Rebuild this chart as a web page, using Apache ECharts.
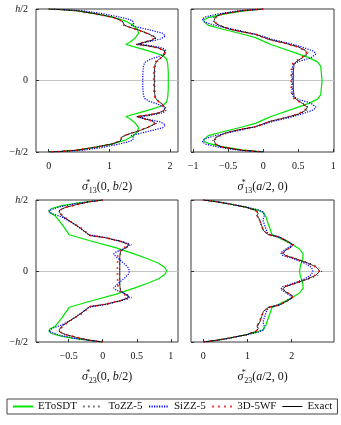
<!DOCTYPE html>
<html>
<head>
<meta charset="utf-8">
<script src="https://cdn.jsdelivr.net/npm/echarts@6/dist/echarts.min.js"></script>
<style>
  html, body { margin: 0; padding: 0; background: #fff; }
  #chart { width: 341px; height: 425px; }
</style>
</head>
<body>
<div id="chart"></div>
<script>
// legend / series names
var names = ["EToSDT", "ToZZ-5", "SiZZ-5", "3D-5WF", "Exact"];

// tick labels of each x axis
var xTicks1 = [0, 1, 2];
var xTicks2 = [-1, -0.5, 0, 0.5, 1];
var xTicks3 = [-0.5, 0, 0.5, 1];
var xTicks4 = [0, 1, 2];
var yTicks = [-0.5, 0, 0.5];

// ---- panel 1 : sigma13(0,b/2), points are [stress, z/h]
var p1Green = [[0,0.5],[0.2,0.496],[0.45,0.488],[0.78,0.466],[1.05,0.443],[1.2,0.425],[1.27,0.415],[1.38,0.39],[1.46,0.36],[1.48,0.33],[1.42,0.295],[1.33,0.266],[1.27,0.252],[1.5,0.225],[1.7,0.2],[1.88,0.175],[1.94,0.15],[1.96,0.12],[1.97,0.06],[1.97,0],
  [1.97,-0.06],[1.96,-0.12],[1.94,-0.15],[1.88,-0.175],[1.7,-0.2],[1.5,-0.225],[1.27,-0.252],[1.33,-0.266],[1.42,-0.295],[1.48,-0.33],[1.46,-0.36],[1.38,-0.39],[1.27,-0.415],[1.2,-0.425],[1.05,-0.443],[0.78,-0.466],[0.45,-0.488],[0.2,-0.496],[0,-0.5]];
var p1ToZZ = [[0,0.5],[0.2,0.496],[0.45,0.488],[0.78,0.466],[1.05,0.443],[1.18,0.423],[1.23,0.408],[1.22,0.395],[1.27,0.383],[1.37,0.368],[1.52,0.348],[1.67,0.323],[1.78,0.3],[1.72,0.282],[1.57,0.266],[1.44,0.252],[1.62,0.243],[1.81,0.228],[1.91,0.21],[1.93,0.19],[1.87,0.162],[1.79,0.135],[1.76,0.11],[1.75,0.06],[1.75,0],
  [1.75,-0.06],[1.76,-0.11],[1.79,-0.135],[1.87,-0.162],[1.93,-0.19],[1.91,-0.21],[1.81,-0.228],[1.62,-0.243],[1.44,-0.252],[1.57,-0.266],[1.72,-0.282],[1.78,-0.3],[1.67,-0.323],[1.52,-0.348],[1.37,-0.368],[1.27,-0.383],[1.22,-0.395],[1.23,-0.408],[1.18,-0.423],[1.05,-0.443],[0.78,-0.466],[0.45,-0.488],[0.2,-0.496],[0,-0.5]];
var p1SiZZ = [[0,0.5],[0.25,0.496],[0.55,0.488],[0.89,0.468],[1.12,0.448],[1.3,0.43],[1.38,0.418],[1.4,0.4],[1.36,0.385],[1.5,0.37],[1.7,0.35],[1.88,0.33],[1.92,0.31],[1.84,0.29],[1.65,0.272],[1.48,0.256],[1.7,0.242],[1.88,0.226],[1.93,0.21],[1.9,0.186],[1.8,0.166],[1.66,0.146],[1.58,0.125],[1.56,0.1],[1.55,0.05],[1.55,0],
  [1.55,-0.05],[1.56,-0.1],[1.58,-0.125],[1.66,-0.146],[1.8,-0.166],[1.9,-0.186],[1.93,-0.21],[1.88,-0.226],[1.7,-0.242],[1.48,-0.256],[1.65,-0.272],[1.84,-0.29],[1.92,-0.31],[1.88,-0.33],[1.7,-0.35],[1.5,-0.37],[1.36,-0.385],[1.4,-0.4],[1.38,-0.418],[1.3,-0.43],[1.12,-0.448],[0.89,-0.468],[0.55,-0.488],[0.25,-0.496],[0,-0.5]];
var p1WF = [[0,0.5],[0.2,0.496],[0.45,0.488],[0.77,0.466],[1.04,0.443],[1.17,0.423],[1.21,0.41],[1.2,0.397],[1.24,0.385],[1.34,0.37],[1.49,0.35],[1.64,0.325],[1.75,0.3],[1.69,0.282],[1.55,0.266],[1.45,0.252],[1.61,0.243],[1.79,0.228],[1.89,0.21],[1.91,0.19],[1.85,0.162],[1.77,0.135],[1.74,0.11],[1.73,0.06],[1.73,0],
  [1.73,-0.06],[1.74,-0.11],[1.77,-0.135],[1.85,-0.162],[1.91,-0.19],[1.89,-0.21],[1.79,-0.228],[1.61,-0.243],[1.45,-0.252],[1.55,-0.266],[1.69,-0.282],[1.75,-0.3],[1.64,-0.325],[1.49,-0.35],[1.34,-0.37],[1.24,-0.385],[1.2,-0.397],[1.21,-0.41],[1.17,-0.423],[1.04,-0.443],[0.77,-0.466],[0.45,-0.488],[0.2,-0.496],[0,-0.5]];
var p1Exact = [[0,0.5],[0.2,0.496],[0.45,0.488],[0.78,0.466],[1.05,0.443],[1.18,0.423],[1.22,0.41],[1.2,0.397],[1.25,0.385],[1.35,0.37],[1.5,0.35],[1.65,0.325],[1.76,0.3],[1.7,0.282],[1.56,0.266],[1.45,0.252],[1.62,0.243],[1.8,0.228],[1.9,0.21],[1.92,0.19],[1.86,0.162],[1.78,0.135],[1.75,0.11],[1.74,0.06],[1.74,0],
  [1.74,-0.06],[1.75,-0.11],[1.78,-0.135],[1.86,-0.162],[1.92,-0.19],[1.9,-0.21],[1.8,-0.228],[1.62,-0.243],[1.45,-0.252],[1.56,-0.266],[1.7,-0.282],[1.76,-0.3],[1.65,-0.325],[1.5,-0.35],[1.35,-0.37],[1.25,-0.385],[1.2,-0.397],[1.22,-0.41],[1.18,-0.423],[1.05,-0.443],[0.78,-0.466],[0.45,-0.488],[0.2,-0.496],[0,-0.5]];

// ---- panel 2 : sigma13(a/2,0)
var p2Green = [[0,0.5],[-0.3,0.485],[-0.59,0.462],[-0.78,0.44],[-0.85,0.425],[-0.84,0.41],[-0.78,0.385],[-0.59,0.36],[-0.3,0.325],[-0.11,0.3],[0.05,0.265],[0.12,0.25],[0.45,0.195],[0.65,0.16],[0.77,0.132],[0.82,0.1],[0.83,0.05],[0.84,0],
  [0.83,-0.05],[0.82,-0.1],[0.77,-0.132],[0.65,-0.16],[0.45,-0.195],[0.12,-0.25],[0.05,-0.265],[-0.11,-0.3],[-0.3,-0.325],[-0.59,-0.36],[-0.78,-0.385],[-0.84,-0.41],[-0.85,-0.425],[-0.78,-0.44],[-0.59,-0.462],[-0.3,-0.485],[0,-0.5]];
var p2ToZZ = [[0,0.5],[-0.3,0.488],[-0.6,0.465],[-0.7,0.445],[-0.72,0.42],[-0.69,0.4],[-0.6,0.38],[-0.49,0.36],[-0.3,0.34],[-0.1,0.32],[0.1,0.285],[0.3,0.262],[0.51,0.235],[0.62,0.21],[0.65,0.188],[0.57,0.16],[0.47,0.132],[0.43,0.11],[0.42,0.06],[0.42,0],
  [0.42,-0.06],[0.43,-0.11],[0.47,-0.132],[0.57,-0.16],[0.65,-0.188],[0.62,-0.21],[0.51,-0.235],[0.3,-0.262],[0.1,-0.285],[-0.1,-0.32],[-0.3,-0.34],[-0.49,-0.36],[-0.6,-0.38],[-0.69,-0.4],[-0.72,-0.42],[-0.7,-0.445],[-0.6,-0.465],[-0.3,-0.488],[0,-0.5]];
var p2SiZZ = [[0,0.5],[-0.35,0.488],[-0.65,0.465],[-0.82,0.445],[-0.87,0.43],[-0.84,0.41],[-0.72,0.39],[-0.55,0.37],[-0.3,0.345],[-0.05,0.315],[0.15,0.285],[0.35,0.262],[0.55,0.235],[0.72,0.205],[0.75,0.185],[0.68,0.158],[0.52,0.135],[0.43,0.115],[0.41,0.08],[0.41,0],
  [0.41,-0.08],[0.43,-0.115],[0.52,-0.135],[0.68,-0.158],[0.75,-0.185],[0.72,-0.205],[0.55,-0.235],[0.35,-0.262],[0.15,-0.285],[-0.05,-0.315],[-0.3,-0.345],[-0.55,-0.37],[-0.72,-0.39],[-0.84,-0.41],[-0.87,-0.43],[-0.82,-0.445],[-0.65,-0.465],[-0.35,-0.488],[0,-0.5]];
var p2WF = [[0,0.5],[-0.3,0.488],[-0.58,0.465],[-0.67,0.445],[-0.69,0.42],[-0.67,0.4],[-0.59,0.38],[-0.48,0.36],[-0.3,0.34],[-0.11,0.323],[0.1,0.285],[0.3,0.262],[0.49,0.235],[0.59,0.21],[0.62,0.188],[0.55,0.16],[0.45,0.132],[0.41,0.11],[0.4,0.06],[0.4,0],
  [0.4,-0.06],[0.41,-0.11],[0.45,-0.132],[0.55,-0.16],[0.62,-0.188],[0.59,-0.21],[0.49,-0.235],[0.3,-0.262],[0.1,-0.285],[-0.11,-0.323],[-0.3,-0.34],[-0.48,-0.36],[-0.59,-0.38],[-0.67,-0.4],[-0.69,-0.42],[-0.67,-0.445],[-0.58,-0.465],[-0.3,-0.488],[0,-0.5]];
var p2Exact = [[0,0.5],[-0.3,0.488],[-0.59,0.465],[-0.68,0.445],[-0.7,0.42],[-0.68,0.4],[-0.6,0.38],[-0.49,0.36],[-0.3,0.34],[-0.11,0.323],[0.1,0.285],[0.3,0.262],[0.5,0.235],[0.6,0.21],[0.63,0.188],[0.56,0.16],[0.47,0.132],[0.44,0.11],[0.43,0.06],[0.43,0],
  [0.43,-0.06],[0.44,-0.11],[0.47,-0.132],[0.56,-0.16],[0.63,-0.188],[0.6,-0.21],[0.5,-0.235],[0.3,-0.262],[0.1,-0.285],[-0.11,-0.323],[-0.3,-0.34],[-0.49,-0.36],[-0.6,-0.38],[-0.68,-0.4],[-0.7,-0.42],[-0.68,-0.445],[-0.59,-0.465],[-0.3,-0.488],[0,-0.5]];

// ---- panel 3 : sigma23(0,b/2)
var p3Green = [[0,0.5],[-0.35,0.48],[-0.6,0.46],[-0.75,0.44],[-0.79,0.425],[-0.78,0.41],[-0.7,0.39],[-0.6,0.33],[-0.49,0.255],[-0.2,0.215],[0.2,0.163],[0.45,0.122],[0.65,0.088],[0.82,0.055],[0.91,0.025],[0.94,0],
  [0.91,-0.025],[0.82,-0.055],[0.65,-0.088],[0.45,-0.122],[0.2,-0.163],[-0.2,-0.215],[-0.49,-0.255],[-0.6,-0.33],[-0.7,-0.39],[-0.78,-0.41],[-0.79,-0.425],[-0.75,-0.44],[-0.6,-0.46],[-0.35,-0.48],[0,-0.5]];
var p3ToZZ = [[0,0.5],[-0.2,0.488],[-0.39,0.467],[-0.55,0.447],[-0.63,0.43],[-0.65,0.415],[-0.6,0.385],[-0.45,0.338],[-0.33,0.303],[-0.19,0.25],[0.05,0.235],[0.27,0.21],[0.43,0.188],[0.38,0.17],[0.3,0.152],[0.26,0.135],[0.25,0.1],[0.25,0],
  [0.25,-0.1],[0.26,-0.135],[0.3,-0.152],[0.38,-0.17],[0.43,-0.188],[0.27,-0.21],[0.05,-0.235],[-0.19,-0.25],[-0.33,-0.303],[-0.45,-0.338],[-0.6,-0.385],[-0.65,-0.415],[-0.63,-0.43],[-0.55,-0.447],[-0.39,-0.467],[-0.2,-0.488],[0,-0.5]];
var p3SiZZ = [[0,0.5],[-0.4,0.475],[-0.65,0.45],[-0.79,0.425],[-0.75,0.405],[-0.6,0.38],[-0.45,0.34],[-0.33,0.3],[-0.2,0.255],[0.05,0.235],[0.3,0.205],[0.4,0.185],[0.33,0.16],[0.2,0.135],[0.16,0.12],[0.22,0.09],[0.32,0.05],[0.38,0.02],[0.39,0],
  [0.38,-0.02],[0.32,-0.05],[0.22,-0.09],[0.16,-0.12],[0.2,-0.135],[0.33,-0.16],[0.4,-0.185],[0.3,-0.205],[0.05,-0.235],[-0.2,-0.255],[-0.33,-0.3],[-0.45,-0.34],[-0.6,-0.38],[-0.75,-0.405],[-0.79,-0.425],[-0.65,-0.45],[-0.4,-0.475],[0,-0.5]];
var p3WF = [[0,0.5],[-0.2,0.488],[-0.38,0.467],[-0.55,0.447],[-0.62,0.43],[-0.63,0.415],[-0.58,0.385],[-0.44,0.338],[-0.32,0.303],[-0.18,0.25],[0.05,0.233],[0.25,0.21],[0.36,0.19],[0.35,0.175],[0.27,0.152],[0.23,0.13],[0.22,0.1],[0.215,0],
  [0.22,-0.1],[0.23,-0.13],[0.27,-0.152],[0.35,-0.175],[0.36,-0.19],[0.25,-0.21],[0.05,-0.233],[-0.18,-0.25],[-0.32,-0.303],[-0.44,-0.338],[-0.58,-0.385],[-0.63,-0.415],[-0.62,-0.43],[-0.55,-0.447],[-0.38,-0.467],[-0.2,-0.488],[0,-0.5]];
var p3Exact = [[0,0.5],[-0.2,0.488],[-0.39,0.467],[-0.55,0.447],[-0.63,0.43],[-0.64,0.415],[-0.59,0.385],[-0.44,0.338],[-0.33,0.303],[-0.19,0.25],[0.05,0.233],[0.25,0.21],[0.37,0.19],[0.37,0.175],[0.3,0.155],[0.26,0.135],[0.25,0.1],[0.25,0],
  [0.25,-0.1],[0.26,-0.135],[0.3,-0.155],[0.37,-0.175],[0.37,-0.19],[0.25,-0.21],[0.05,-0.233],[-0.19,-0.25],[-0.33,-0.303],[-0.44,-0.338],[-0.59,-0.385],[-0.64,-0.415],[-0.63,-0.43],[-0.55,-0.447],[-0.39,-0.467],[-0.2,-0.488],[0,-0.5]];

// ---- panel 4 : sigma23(a/2,0)
var p4Green = [[0,0.5],[0.3,0.489],[0.6,0.472],[0.98,0.448],[1.21,0.43],[1.36,0.413],[1.42,0.38],[1.47,0.331],[1.52,0.29],[1.55,0.26],[1.6,0.25],[2.0,0.19],[2.18,0.155],[2.26,0.12],[2.25,0.08],[2.2,0.04],[2.18,0],
  [2.2,-0.04],[2.25,-0.08],[2.26,-0.12],[2.18,-0.155],[2.0,-0.19],[1.6,-0.25],[1.55,-0.26],[1.52,-0.29],[1.47,-0.331],[1.42,-0.38],[1.36,-0.413],[1.21,-0.43],[0.98,-0.448],[0.6,-0.472],[0.3,-0.489],[0,-0.5]];
var p4ToZZ = [[0,0.5],[0.3,0.488],[0.6,0.472],[0.98,0.448],[1.2,0.425],[1.25,0.405],[1.21,0.39],[1.26,0.36],[1.31,0.32],[1.36,0.285],[1.47,0.256],[1.72,0.24],[1.92,0.21],[2.05,0.185],[2.0,0.17],[1.85,0.145],[1.79,0.125],[1.86,0.11],[2.12,0.085],[2.38,0.058],[2.6,0.03],[2.69,0],
  [2.6,-0.03],[2.38,-0.058],[2.12,-0.085],[1.86,-0.11],[1.79,-0.125],[1.85,-0.145],[2.0,-0.17],[2.05,-0.185],[1.92,-0.21],[1.72,-0.24],[1.47,-0.256],[1.36,-0.285],[1.31,-0.32],[1.26,-0.36],[1.21,-0.39],[1.25,-0.405],[1.2,-0.425],[0.98,-0.448],[0.6,-0.472],[0.3,-0.488],[0,-0.5]];
var p4SiZZ = [[0,0.5],[0.3,0.489],[0.6,0.473],[1.0,0.448],[1.25,0.43],[1.36,0.415],[1.38,0.39],[1.35,0.36],[1.4,0.31],[1.45,0.27],[1.5,0.255],[1.75,0.235],[1.98,0.195],[2.0,0.18],[1.85,0.15],[1.75,0.128],[1.8,0.11],[2.05,0.085],[2.3,0.055],[2.45,0.025],[2.48,0],
  [2.45,-0.025],[2.3,-0.055],[2.05,-0.085],[1.8,-0.11],[1.75,-0.128],[1.85,-0.15],[2.0,-0.18],[1.98,-0.195],[1.75,-0.235],[1.5,-0.255],[1.45,-0.27],[1.4,-0.31],[1.35,-0.36],[1.38,-0.39],[1.36,-0.415],[1.25,-0.43],[1.0,-0.448],[0.6,-0.473],[0.3,-0.489],[0,-0.5]];
var p4WF = [[0,0.5],[0.3,0.488],[0.6,0.472],[0.97,0.448],[1.19,0.425],[1.23,0.405],[1.21,0.39],[1.27,0.36],[1.32,0.32],[1.36,0.285],[1.47,0.256],[1.71,0.24],[1.89,0.21],[2.02,0.185],[1.99,0.17],[1.86,0.145],[1.8,0.125],[1.86,0.11],[2.09,0.085],[2.33,0.058],[2.53,0.03],[2.62,0],
  [2.53,-0.03],[2.33,-0.058],[2.09,-0.085],[1.86,-0.11],[1.8,-0.125],[1.86,-0.145],[1.99,-0.17],[2.02,-0.185],[1.89,-0.21],[1.71,-0.24],[1.47,-0.256],[1.36,-0.285],[1.32,-0.32],[1.27,-0.36],[1.21,-0.39],[1.23,-0.405],[1.19,-0.425],[0.97,-0.448],[0.6,-0.472],[0.3,-0.488],[0,-0.5]];
var p4Exact = [[0,0.5],[0.3,0.488],[0.6,0.472],[0.98,0.448],[1.2,0.425],[1.24,0.405],[1.22,0.39],[1.28,0.36],[1.32,0.32],[1.36,0.285],[1.47,0.256],[1.72,0.24],[1.9,0.21],[2.03,0.185],[2.0,0.17],[1.86,0.145],[1.8,0.125],[1.86,0.11],[2.1,0.085],[2.35,0.058],[2.55,0.03],[2.64,0],
  [2.55,-0.03],[2.35,-0.058],[2.1,-0.085],[1.86,-0.11],[1.8,-0.125],[1.86,-0.145],[2.0,-0.17],[2.03,-0.185],[1.9,-0.21],[1.72,-0.24],[1.47,-0.256],[1.36,-0.285],[1.32,-0.32],[1.28,-0.36],[1.22,-0.39],[1.24,-0.405],[1.2,-0.425],[0.98,-0.448],[0.6,-0.472],[0.3,-0.488],[0,-0.5]];

var FONT = "Liberation Serif";

// line look of every method
var looks = {
  "EToSDT": { color: "#00e400", width: 1.2, type: "solid", z: 2 },
  "ToZZ-5": { color: "#000000", width: 1, type: [1, 4], z: 3 },
  "SiZZ-5": { color: "#0000ff", width: 1.2, type: [1.2, 1.3], z: 4 },
  "Exact":  { color: "#000000", width: 0.8, type: "solid", z: 5 },
  "3D-5WF": { color: "#ff0000", width: 1.6, type: [1.5, 4.5], z: 6 }
};

var panels = [
  { data: [p1Green, p1ToZZ, p1SiZZ, p1WF, p1Exact], min: -0.21, max: 2.13, ticks: xTicks1,
    name: "{s|σ}{sp|*}{sb|13}{n|(0, }{s|b}{n|/2)}" },
  { data: [p2Green, p2ToZZ, p2SiZZ, p2WF, p2Exact], min: -1.03, max: 1.01, ticks: xTicks2,
    name: "{s|σ}{sp|*}{sb|13}{n|(}{s|a}{n|/2, 0)}" },
  { data: [p3Green, p3ToZZ, p3SiZZ, p3WF, p3Exact], min: -0.98, max: 1.105, ticks: xTicks3,
    name: "{s|σ}{sp|*}{sb|23}{n|(0, }{s|b}{n|/2)}" },
  { data: [p4Green, p4ToZZ, p4SiZZ, p4WF, p4Exact], min: -0.28, max: 2.96, ticks: xTicks4,
    name: "{s|σ}{sp|*}{sb|23}{n|(}{s|a}{n|/2, 0)}" }
];

var grids = [
  { left: 36, top: 9, width: 142, height: 143 },
  { left: 191, top: 9, width: 143, height: 143 },
  { left: 36, top: 200, width: 142, height: 142 },
  { left: 191, top: 200, width: 143, height: 142 }
];

var nameRich = {
  s: { fontFamily: FONT, fontStyle: "italic", fontSize: 12, lineHeight: 16, color: "#111" },
  n: { fontFamily: FONT, fontSize: 12, lineHeight: 16, color: "#111" },
  sp: { fontFamily: FONT, fontSize: 8, lineHeight: 9, verticalAlign: "top", width: 1, color: "#111" },
  sb: { fontFamily: FONT, fontSize: 8, lineHeight: 9, verticalAlign: "bottom", color: "#111" }
};

var xAxes = [], yAxes = [], series = [];
panels.forEach(function (p, i) {
  xAxes.push({
    type: "value", gridIndex: i, min: p.min, max: p.max,
    axisLine: { show: false, onZero: false },
    axisTick: { show: true, inside: true, length: 3, customValues: p.ticks, lineStyle: { color: "#333" } },
    splitLine: { show: false },
    axisLabel: {
      customValues: p.ticks, fontFamily: FONT, fontSize: 10, color: "#111", margin: 9,
      formatter: function (v) { return String(v).replace("-", "\u2212"); }
    },
    name: p.name, nameLocation: "middle", nameGap: 27,
    nameTextStyle: { fontFamily: FONT, fontSize: 12, color: "#111", rich: nameRich }
  });
  yAxes.push({
    type: "value", gridIndex: i, min: -0.5, max: 0.5, interval: 0.5,
    axisLine: { show: false, onZero: false },
    axisTick: { show: true, inside: true, length: 3, lineStyle: { color: "#333" } },
    splitLine: { show: true, showMinLine: false, showMaxLine: false, lineStyle: { color: "#c4c4c4", width: 1 } },
    axisLabel: {
      show: i % 2 === 0, fontFamily: FONT, fontSize: 10, color: "#111", margin: 8,
      formatter: function (v) {
        if (v === 0.5) return "{i|h}/2";
        if (v === -0.5) return "\u2212{i|h}/2";
        return "0";
      },
      rich: { i: { fontFamily: FONT, fontStyle: "italic", fontSize: 10, color: "#111" } }
    }
  });
  p.data.forEach(function (d, k) {
    var lk = looks[names[k]];
    series.push({
      name: names[k], type: "line", xAxisIndex: i, yAxisIndex: i,
      data: d, symbol: "none", z: lk.z,
      color: lk.color,
      lineStyle: { color: lk.color, width: lk.width, type: lk.type }
    });
  });
});

var myChart = echarts.init(document.getElementById("chart"));
myChart.setOption({
  animation: false,
  backgroundColor: "#fff",
  grid: grids.map(function (g) {
    return Object.assign({ show: true, borderColor: "#3a3a3a", borderWidth: 1, backgroundColor: "transparent" }, g);
  }),
  xAxis: xAxes,
  yAxis: yAxes,
  legend: {
    data: names.map(function (n) {
      return n === "Exact" ? { name: n, lineStyle: { width: 1 } } : n;
    }),
    left: 7, top: 399, width: 330, itemWidth: 20, itemHeight: 8, itemGap: 5.5,
    padding: [2, 5], borderColor: "#444", borderWidth: 1,
    itemStyle: { opacity: 0 },
    textStyle: { fontFamily: FONT, fontSize: 11, color: "#111" }
  },
  series: series
});
</script>
</body>
</html>
